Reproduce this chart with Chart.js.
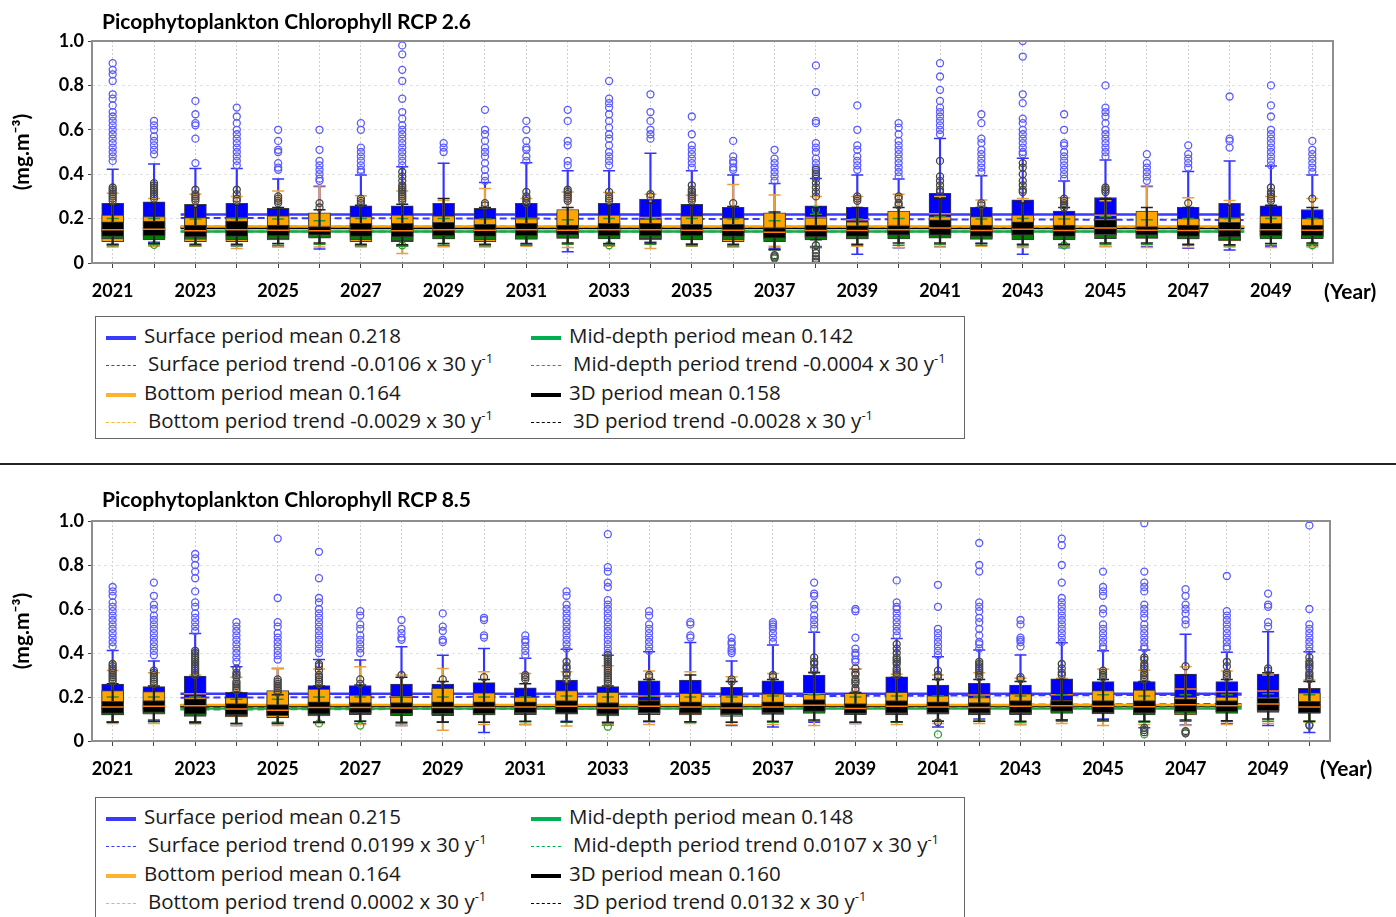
<!DOCTYPE html>
<html>
<head>
<meta charset="utf-8">
<script src="https://cdn.jsdelivr.net/npm/chart.js@4.4.1/dist/chart.umd.min.js"></script>
<style>
body { margin: 0; background: #fff; width: 1396px; height: 917px; overflow: hidden; position: relative; }
.panel { position: absolute; left: 0; }
.title { position: absolute; left: 102px; font-family: Lato, sans-serif; font-weight: bold; font-size: 21px; color: #000; line-height: 25px; }
.yearLabel { position: absolute; font-family: Lato, sans-serif; font-weight: bold; font-size: 21px; color: #000; }
.sep { position: absolute; left: 0; top: 463px; width: 1396px; height: 2px; background: #222; }
.legend { position: absolute; left: 95px; width: 868px; height: 121px; border: 1px solid #666; font-family: 'Open Sans', sans-serif; font-size: 20.5px; color: #1a1a1a; }
.item { position: absolute; height: 28px; line-height: 28px; white-space: nowrap; }
.sym { display: inline-block; width: 30px; vertical-align: middle; margin-right: 8px; }
.solid { height: 4px; }
.dash { height: 0; margin-right: 12px; }
sup { font-size: 13px; line-height: 0; }
</style>
</head>
<body>
<div class="panel" style="top:0"><canvas id="chart26" width="1396" height="310"></canvas></div>
<div class="title" style="top:8px">Picophytoplankton Chlorophyll RCP 2.6</div>
<div class="yearLabel" style="left:1324px; top:278px">(Year)</div>
<div class="legend" id="legend26" style="top:316px"></div>
<div class="sep"></div>
<div class="panel" style="top:480px"><canvas id="chart85" width="1396" height="310"></canvas></div>
<div class="title" style="top:486px">Picophytoplankton Chlorophyll RCP 8.5</div>
<div class="yearLabel" style="left:1320px; top:755px">(Year)</div>
<div class="legend" id="legend85" style="top:797px"></div>
<script>
const years = ['2021', '2022', '2023', '2024', '2025', '2026', '2027', '2028', '2029', '2030',
	'2031', '2032', '2033', '2034', '2035', '2036', '2037', '2038', '2039', '2040',
	'2041', '2042', '2043', '2044', '2045', '2046', '2047', '2048', '2049', '2050'];
const xStart = 2020.5;
const xEnd = 2050.5;
const seriesNames = ['Surface', 'Bottom', 'Mid-depth', '3D'];

// ---- RCP 2.6 ----
const surfQ1_26 = [0.140, 0.145, 0.135, 0.140, 0.135, 0.130, 0.140, 0.135, 0.140, 0.135, 0.140, 0.130, 0.140, 0.140, 0.140, 0.135, 0.125, 0.140, 0.135, 0.135, 0.150, 0.135, 0.140, 0.135, 0.145, 0.135, 0.140, 0.140, 0.140, 0.135];
const surfMed_26 = [0.200, 0.205, 0.195, 0.200, 0.190, 0.180, 0.195, 0.195, 0.200, 0.190, 0.200, 0.185, 0.200, 0.205, 0.195, 0.190, 0.180, 0.205, 0.195, 0.185, 0.222, 0.195, 0.210, 0.190, 0.215, 0.185, 0.195, 0.200, 0.200, 0.190];
const surfQ3_26 = [0.269, 0.276, 0.264, 0.269, 0.246, 0.220, 0.258, 0.257, 0.269, 0.246, 0.269, 0.230, 0.269, 0.288, 0.264, 0.251, 0.220, 0.258, 0.251, 0.225, 0.314, 0.251, 0.284, 0.234, 0.295, 0.222, 0.251, 0.269, 0.258, 0.241];
const surfLo_26 = [0.081, 0.093, 0.078, 0.078, 0.074, 0.063, 0.078, 0.078, 0.074, 0.078, 0.081, 0.051, 0.081, 0.093, 0.084, 0.074, 0.066, 0.074, 0.039, 0.069, 0.074, 0.089, 0.039, 0.069, 0.074, 0.074, 0.066, 0.059, 0.074, 0.078];
const surfHi_26 = [0.422, 0.446, 0.426, 0.426, 0.378, 0.345, 0.396, 0.434, 0.449, 0.363, 0.452, 0.416, 0.416, 0.494, 0.416, 0.396, 0.358, 0.381, 0.396, 0.378, 0.561, 0.393, 0.472, 0.369, 0.464, 0.345, 0.412, 0.459, 0.437, 0.396];
const surfOut_26 = [
	[0.90, 0.87, 0.85, 0.82, 0.76, 0.74, 0.71, 0.68, 0.66, 0.64, 0.62, 0.60, 0.58, 0.56, 0.54, 0.52, 0.50, 0.48, 0.46],
	[0.64, 0.62, 0.60, 0.57, 0.55, 0.53, 0.51, 0.49],
	[0.73, 0.67, 0.63, 0.62, 0.56, 0.45],
	[0.70, 0.66, 0.63, 0.60, 0.58, 0.56, 0.54, 0.52, 0.50, 0.48, 0.46, 0.44],
	[0.60, 0.55, 0.51, 0.50, 0.45, 0.43, 0.42],
	[0.60, 0.51, 0.46, 0.44, 0.42, 0.40, 0.38, 0.37],
	[0.63, 0.60, 0.52, 0.50, 0.48, 0.46, 0.44, 0.42, 0.41],
	[0.98, 0.94, 0.87, 0.82, 0.74, 0.68, 0.65, 0.62, 0.60, 0.58, 0.56, 0.54, 0.52, 0.50, 0.48, 0.46, 0.44],
	[0.54, 0.52, 0.50],
	[0.69, 0.60, 0.58, 0.55, 0.52, 0.50, 0.48, 0.45, 0.42, 0.39, 0.37],
	[0.64, 0.60, 0.55, 0.52, 0.51, 0.48, 0.46],
	[0.69, 0.64, 0.55, 0.53, 0.46, 0.44],
	[0.82, 0.74, 0.72, 0.70, 0.67, 0.64, 0.61, 0.58, 0.56, 0.53, 0.50, 0.48, 0.46, 0.44],
	[0.76, 0.68, 0.64, 0.60, 0.58, 0.56],
	[0.66, 0.58, 0.53, 0.51, 0.49, 0.47, 0.45, 0.43],
	[0.55, 0.48, 0.46, 0.45, 0.43, 0.42],
	[0.51, 0.47, 0.45, 0.43, 0.41, 0.39, 0.37],
	[0.89, 0.77, 0.64, 0.63, 0.54, 0.52, 0.50, 0.47, 0.45, 0.43, 0.41, 0.39],
	[0.71, 0.60, 0.53, 0.51, 0.48, 0.46, 0.44, 0.42],
	[0.63, 0.61, 0.58, 0.55, 0.53, 0.51, 0.49, 0.47, 0.45, 0.43, 0.41, 0.39],
	[0.90, 0.84, 0.78, 0.73, 0.70, 0.68, 0.66, 0.64, 0.62, 0.60, 0.58],
	[0.67, 0.63, 0.56, 0.54, 0.51, 0.49, 0.47, 0.45, 0.43, 0.41],
	[1.00, 0.93, 0.76, 0.72, 0.65, 0.63, 0.60, 0.58, 0.56, 0.54, 0.52, 0.50, 0.49],
	[0.67, 0.60, 0.54, 0.53, 0.50, 0.48, 0.46, 0.44, 0.42, 0.40, 0.38],
	[0.80, 0.70, 0.68, 0.66, 0.63, 0.60, 0.58, 0.56, 0.54, 0.52, 0.50, 0.48],
	[0.49, 0.45, 0.43, 0.41, 0.39, 0.37],
	[0.53, 0.49, 0.47, 0.45, 0.43],
	[0.75, 0.56, 0.55, 0.52],
	[0.80, 0.71, 0.66, 0.60, 0.58, 0.56, 0.54, 0.52, 0.50, 0.48, 0.46, 0.44],
	[0.55, 0.51, 0.49, 0.47, 0.45, 0.43, 0.41]
];
const botQ1_26 = [0.096, 0.111, 0.096, 0.096, 0.104, 0.118, 0.096, 0.096, 0.108, 0.096, 0.111, 0.111, 0.111, 0.104, 0.110, 0.096, 0.108, 0.111, 0.108, 0.126, 0.118, 0.111, 0.126, 0.108, 0.126, 0.111, 0.108, 0.099, 0.118, 0.118];
const botMed_26 = [0.160, 0.158, 0.150, 0.155, 0.155, 0.165, 0.155, 0.150, 0.158, 0.150, 0.155, 0.160, 0.158, 0.152, 0.158, 0.152, 0.160, 0.155, 0.148, 0.170, 0.160, 0.155, 0.165, 0.158, 0.165, 0.165, 0.152, 0.155, 0.160, 0.158];
const botQ3_26 = [0.216, 0.209, 0.205, 0.204, 0.212, 0.226, 0.209, 0.216, 0.212, 0.200, 0.200, 0.241, 0.216, 0.198, 0.212, 0.204, 0.226, 0.204, 0.186, 0.234, 0.209, 0.209, 0.216, 0.216, 0.200, 0.234, 0.200, 0.204, 0.213, 0.200];
const botLo_26 = [0.072, 0.075, 0.075, 0.065, 0.072, 0.072, 0.072, 0.043, 0.075, 0.072, 0.075, 0.070, 0.075, 0.065, 0.075, 0.072, 0.075, 0.070, 0.075, 0.070, 0.072, 0.075, 0.070, 0.072, 0.075, 0.070, 0.070, 0.072, 0.070, 0.072];
const botHi_26 = [0.314, 0.290, 0.310, 0.300, 0.324, 0.348, 0.303, 0.324, 0.281, 0.336, 0.290, 0.320, 0.318, 0.310, 0.305, 0.354, 0.306, 0.300, 0.300, 0.310, 0.300, 0.284, 0.290, 0.294, 0.280, 0.348, 0.294, 0.281, 0.300, 0.290];
const midQ1_26 = [0.108, 0.104, 0.106, 0.104, 0.108, 0.112, 0.104, 0.100, 0.108, 0.104, 0.106, 0.112, 0.108, 0.110, 0.104, 0.104, 0.096, 0.104, 0.108, 0.108, 0.112, 0.106, 0.104, 0.104, 0.110, 0.112, 0.108, 0.104, 0.108, 0.110];
const midMed_26 = [0.130, 0.132, 0.128, 0.130, 0.130, 0.128, 0.130, 0.128, 0.132, 0.128, 0.130, 0.130, 0.130, 0.132, 0.128, 0.128, 0.120, 0.130, 0.128, 0.130, 0.138, 0.128, 0.132, 0.128, 0.135, 0.130, 0.128, 0.130, 0.130, 0.130];
const midQ3_26 = [0.152, 0.155, 0.150, 0.152, 0.150, 0.145, 0.152, 0.150, 0.155, 0.150, 0.152, 0.148, 0.152, 0.155, 0.150, 0.150, 0.142, 0.150, 0.148, 0.150, 0.160, 0.150, 0.155, 0.150, 0.158, 0.148, 0.150, 0.152, 0.152, 0.150];
const midLo_26 = [0.078, 0.082, 0.078, 0.078, 0.080, 0.085, 0.078, 0.075, 0.080, 0.078, 0.080, 0.085, 0.080, 0.085, 0.078, 0.078, 0.060, 0.070, 0.080, 0.080, 0.085, 0.080, 0.078, 0.078, 0.085, 0.085, 0.080, 0.078, 0.080, 0.085];
const midHi_26 = [0.200, 0.200, 0.198, 0.200, 0.198, 0.190, 0.200, 0.200, 0.200, 0.198, 0.200, 0.195, 0.200, 0.200, 0.200, 0.198, 0.190, 0.220, 0.198, 0.200, 0.210, 0.198, 0.200, 0.198, 0.210, 0.195, 0.200, 0.200, 0.200, 0.200];
const midOut_26 = [[], [0.082], [], [], [], [], [], [0.080], [], [], [], [], [0.080], [], [], [], [0.030, 0.020], [0.240, 0.020], [], [], [], [], [], [0.080], [], [], [], [], [], [0.080]];
const d3Q1_26 = [0.120, 0.122, 0.118, 0.120, 0.122, 0.125, 0.120, 0.118, 0.122, 0.120, 0.122, 0.125, 0.122, 0.122, 0.122, 0.120, 0.112, 0.118, 0.120, 0.125, 0.125, 0.120, 0.125, 0.120, 0.128, 0.125, 0.120, 0.118, 0.122, 0.122];
const d3Med_26 = [0.150, 0.152, 0.145, 0.150, 0.148, 0.145, 0.148, 0.145, 0.150, 0.147, 0.150, 0.148, 0.150, 0.150, 0.148, 0.148, 0.138, 0.146, 0.146, 0.150, 0.158, 0.146, 0.152, 0.146, 0.158, 0.148, 0.146, 0.150, 0.150, 0.148];
const d3Q3_26 = [0.186, 0.189, 0.171, 0.189, 0.171, 0.164, 0.179, 0.179, 0.183, 0.174, 0.179, 0.171, 0.179, 0.179, 0.174, 0.174, 0.160, 0.171, 0.168, 0.168, 0.194, 0.171, 0.186, 0.171, 0.194, 0.164, 0.171, 0.183, 0.179, 0.171];
const d3Lo_26 = [0.085, 0.088, 0.085, 0.085, 0.088, 0.090, 0.085, 0.082, 0.088, 0.085, 0.088, 0.090, 0.088, 0.090, 0.085, 0.085, 0.060, 0.105, 0.085, 0.090, 0.090, 0.088, 0.085, 0.085, 0.090, 0.090, 0.085, 0.082, 0.088, 0.090];
const d3Hi_26 = [0.265, 0.270, 0.250, 0.260, 0.250, 0.240, 0.260, 0.265, 0.290, 0.250, 0.260, 0.250, 0.260, 0.270, 0.260, 0.255, 0.230, 0.250, 0.250, 0.250, 0.290, 0.250, 0.270, 0.250, 0.290, 0.250, 0.250, 0.260, 0.260, 0.250];
const d3Out_26 = [
	[0.34, 0.33, 0.32, 0.31, 0.30, 0.29, 0.28], [0.36, 0.35, 0.34, 0.33, 0.32, 0.31, 0.30, 0.29], [0.33, 0.31, 0.30, 0.29, 0.28],
	[0.33, 0.31, 0.29, 0.28], [0.30, 0.29, 0.28, 0.27], [0.27, 0.25], [0.29, 0.28, 0.27],
	[0.41, 0.39, 0.37, 0.35, 0.34, 0.33, 0.32, 0.31, 0.30, 0.29, 0.28], [], [0.27, 0.26], [0.32, 0.30, 0.29, 0.28, 0.27],
	[0.33, 0.32, 0.31, 0.30, 0.29, 0.28], [0.32, 0.30, 0.29, 0.28], [0.31, 0.30], [0.35, 0.33, 0.32, 0.31, 0.30, 0.29, 0.28],
	[0.27], [0.035, 0.025], [0.42, 0.40, 0.38, 0.36, 0.34, 0.32, 0.30, 0.08, 0.06, 0.045, 0.03, 0.015, 0.006],
	[0.30, 0.29, 0.28], [0.30, 0.29, 0.27, 0.26], [0.46, 0.39, 0.37, 0.35, 0.33, 0.32], [0.27, 0.26],
	[0.45, 0.43, 0.40, 0.37, 0.35, 0.33, 0.32], [0.29, 0.28, 0.27, 0.26, 0.25], [0.34, 0.33, 0.32], [], [0.27], [],
	[0.34, 0.32, 0.31, 0.30, 0.29, 0.28], [0.29]
];
const means26 = [0.218, 0.164, 0.142, 0.158];
const trends26 = [-0.0106, -0.0029, -0.0004, -0.0028];
const trendStart26 = [0.203, 0.166, 0.142, 0.160];
const trendEnd26 = [0.194, 0.163, 0.142, 0.157];

// ---- RCP 8.5 ----
const surfQ1_85 = [0.140, 0.140, 0.150, 0.130, 0.130, 0.140, 0.140, 0.140, 0.140, 0.140, 0.140, 0.145, 0.140, 0.150, 0.150, 0.140, 0.150, 0.155, 0.130, 0.150, 0.145, 0.145, 0.145, 0.150, 0.150, 0.145, 0.160, 0.150, 0.160, 0.140];
const surfMed_85 = [0.200, 0.195, 0.215, 0.180, 0.180, 0.195, 0.195, 0.200, 0.200, 0.200, 0.190, 0.205, 0.195, 0.205, 0.205, 0.190, 0.205, 0.215, 0.180, 0.215, 0.200, 0.209, 0.200, 0.210, 0.205, 0.205, 0.236, 0.224, 0.227, 0.195];
const surfQ3_85 = [0.259, 0.247, 0.295, 0.221, 0.215, 0.252, 0.252, 0.259, 0.259, 0.265, 0.242, 0.277, 0.247, 0.273, 0.277, 0.244, 0.274, 0.300, 0.210, 0.292, 0.254, 0.262, 0.254, 0.283, 0.270, 0.270, 0.304, 0.270, 0.304, 0.239];
const surfLo_85 = [0.088, 0.095, 0.088, 0.070, 0.080, 0.085, 0.080, 0.070, 0.088, 0.039, 0.075, 0.090, 0.073, 0.088, 0.088, 0.070, 0.064, 0.085, 0.080, 0.088, 0.064, 0.100, 0.075, 0.095, 0.100, 0.060, 0.073, 0.080, 0.070, 0.039];
const surfHi_85 = [0.411, 0.364, 0.489, 0.338, 0.330, 0.370, 0.368, 0.428, 0.390, 0.421, 0.376, 0.417, 0.390, 0.406, 0.448, 0.364, 0.436, 0.494, 0.327, 0.466, 0.383, 0.414, 0.391, 0.447, 0.410, 0.414, 0.485, 0.403, 0.497, 0.406];
const surfOut_85 = [
	[0.70, 0.68, 0.66, 0.63, 0.61, 0.59, 0.57, 0.55, 0.53, 0.51, 0.49, 0.47, 0.45, 0.43],
	[0.72, 0.66, 0.62, 0.60, 0.57, 0.55, 0.53, 0.51, 0.49, 0.47, 0.45, 0.43, 0.41, 0.39],
	[0.85, 0.83, 0.80, 0.77, 0.74, 0.68, 0.63, 0.61, 0.58, 0.56, 0.54, 0.52, 0.50],
	[0.54, 0.52, 0.50, 0.48, 0.46, 0.44, 0.42, 0.40, 0.38, 0.36],
	[0.92, 0.65, 0.54, 0.52, 0.49, 0.47, 0.45, 0.43, 0.41, 0.39, 0.37],
	[0.86, 0.74, 0.65, 0.63, 0.60, 0.58, 0.56, 0.54, 0.52, 0.50, 0.48, 0.46, 0.44, 0.42, 0.40],
	[0.59, 0.57, 0.53, 0.51, 0.48, 0.46, 0.44, 0.42, 0.40],
	[0.55, 0.51, 0.49, 0.47, 0.46],
	[0.58, 0.52, 0.50, 0.46, 0.45],
	[0.56, 0.55, 0.48, 0.47],
	[0.48, 0.46, 0.45, 0.43, 0.41, 0.39],
	[0.68, 0.66, 0.62, 0.60, 0.58, 0.56, 0.54, 0.52, 0.50, 0.48, 0.46, 0.44, 0.42],
	[0.94, 0.79, 0.77, 0.72, 0.70, 0.64, 0.62, 0.60, 0.58, 0.56, 0.54, 0.52, 0.50, 0.48, 0.46, 0.44, 0.42, 0.40],
	[0.59, 0.57, 0.53, 0.51, 0.49, 0.47, 0.45, 0.43, 0.41],
	[0.54, 0.53, 0.48, 0.47],
	[0.47, 0.45, 0.44, 0.42, 0.41, 0.40],
	[0.54, 0.53, 0.52, 0.51, 0.49, 0.47, 0.45],
	[0.72, 0.67, 0.66, 0.62, 0.60, 0.57, 0.55, 0.53, 0.51],
	[0.60, 0.59, 0.47, 0.42, 0.40, 0.39, 0.37, 0.36],
	[0.73, 0.63, 0.61, 0.60, 0.58, 0.56, 0.54, 0.52, 0.50, 0.48],
	[0.71, 0.61, 0.51, 0.49, 0.47, 0.45, 0.43, 0.41, 0.39],
	[0.90, 0.80, 0.77, 0.63, 0.61, 0.59, 0.56, 0.54, 0.51, 0.48, 0.45, 0.44, 0.42],
	[0.55, 0.53, 0.47, 0.46, 0.45, 0.43],
	[0.92, 0.89, 0.80, 0.72, 0.65, 0.63, 0.61, 0.59, 0.57, 0.55, 0.53, 0.51, 0.49, 0.47, 0.45],
	[0.77, 0.70, 0.68, 0.66, 0.60, 0.58, 0.53, 0.51, 0.49, 0.47, 0.45, 0.43, 0.42],
	[0.99, 0.77, 0.72, 0.70, 0.68, 0.62, 0.60, 0.58, 0.56, 0.53, 0.51, 0.49, 0.47, 0.45, 0.43, 0.42],
	[0.69, 0.66, 0.62, 0.60, 0.58, 0.55, 0.53],
	[0.75, 0.59, 0.57, 0.55, 0.53, 0.51, 0.49, 0.47, 0.45, 0.43, 0.42],
	[0.67, 0.62, 0.61, 0.54, 0.52],
	[1.01, 0.98, 0.60, 0.53, 0.51, 0.49, 0.47, 0.45, 0.43, 0.41]
];
const botQ1_85 = [0.118, 0.122, 0.118, 0.110, 0.106, 0.114, 0.120, 0.118, 0.115, 0.118, 0.120, 0.123, 0.114, 0.120, 0.118, 0.112, 0.121, 0.136, 0.123, 0.118, 0.123, 0.118, 0.123, 0.130, 0.123, 0.133, 0.118, 0.130, 0.141, 0.130];
const botMed_85 = [0.165, 0.168, 0.160, 0.150, 0.150, 0.165, 0.162, 0.158, 0.165, 0.165, 0.160, 0.168, 0.162, 0.158, 0.165, 0.160, 0.165, 0.170, 0.160, 0.168, 0.162, 0.158, 0.165, 0.162, 0.172, 0.175, 0.160, 0.165, 0.170, 0.170];
const botQ3_85 = [0.229, 0.225, 0.200, 0.197, 0.229, 0.236, 0.209, 0.200, 0.239, 0.219, 0.200, 0.229, 0.221, 0.186, 0.217, 0.209, 0.214, 0.212, 0.217, 0.221, 0.205, 0.197, 0.214, 0.186, 0.229, 0.232, 0.200, 0.200, 0.200, 0.219];
const botLo_85 = [0.080, 0.080, 0.080, 0.070, 0.070, 0.080, 0.075, 0.070, 0.049, 0.075, 0.075, 0.068, 0.075, 0.075, 0.080, 0.075, 0.075, 0.070, 0.080, 0.075, 0.080, 0.080, 0.075, 0.080, 0.070, 0.075, 0.070, 0.075, 0.080, 0.085];
const botHi_85 = [0.320, 0.310, 0.300, 0.290, 0.330, 0.327, 0.338, 0.300, 0.330, 0.315, 0.307, 0.315, 0.342, 0.318, 0.315, 0.292, 0.307, 0.315, 0.327, 0.303, 0.300, 0.310, 0.285, 0.285, 0.327, 0.322, 0.338, 0.318, 0.300, 0.277];
const midQ1_85 = [0.118, 0.125, 0.112, 0.115, 0.115, 0.118, 0.122, 0.115, 0.118, 0.118, 0.120, 0.122, 0.118, 0.125, 0.122, 0.118, 0.122, 0.125, 0.120, 0.120, 0.122, 0.120, 0.120, 0.125, 0.125, 0.118, 0.125, 0.125, 0.130, 0.125];
const midMed_85 = [0.140, 0.142, 0.140, 0.135, 0.135, 0.140, 0.140, 0.140, 0.138, 0.140, 0.142, 0.145, 0.140, 0.145, 0.142, 0.140, 0.145, 0.150, 0.140, 0.145, 0.145, 0.140, 0.145, 0.148, 0.148, 0.145, 0.148, 0.148, 0.152, 0.148];
const midQ3_85 = [0.160, 0.162, 0.160, 0.155, 0.155, 0.160, 0.160, 0.160, 0.160, 0.160, 0.162, 0.165, 0.160, 0.165, 0.162, 0.160, 0.165, 0.170, 0.160, 0.165, 0.165, 0.160, 0.165, 0.168, 0.168, 0.165, 0.168, 0.168, 0.172, 0.168];
const midLo_85 = [0.085, 0.088, 0.080, 0.080, 0.085, 0.085, 0.090, 0.080, 0.085, 0.085, 0.088, 0.085, 0.080, 0.090, 0.085, 0.085, 0.085, 0.090, 0.085, 0.085, 0.090, 0.090, 0.085, 0.090, 0.090, 0.085, 0.090, 0.090, 0.090, 0.090];
const midHi_85 = [0.200, 0.200, 0.200, 0.190, 0.190, 0.200, 0.200, 0.200, 0.200, 0.200, 0.200, 0.205, 0.200, 0.205, 0.200, 0.200, 0.205, 0.210, 0.200, 0.205, 0.205, 0.200, 0.205, 0.210, 0.210, 0.205, 0.210, 0.210, 0.215, 0.210];
const midOut_85 = [[], [], [], [], [], [0.080], [0.070], [], [], [], [], [], [0.065], [], [], [], [], [], [], [], [0.030], [], [], [], [0.300], [0.030], [0.040], [], [], [0.075]];
const d3Q1_85 = [0.125, 0.130, 0.122, 0.118, 0.115, 0.122, 0.128, 0.124, 0.124, 0.124, 0.128, 0.126, 0.122, 0.128, 0.126, 0.122, 0.128, 0.134, 0.125, 0.126, 0.128, 0.126, 0.128, 0.134, 0.128, 0.126, 0.132, 0.132, 0.138, 0.128];
const d3Med_85 = [0.155, 0.158, 0.160, 0.145, 0.140, 0.152, 0.152, 0.150, 0.152, 0.152, 0.155, 0.158, 0.150, 0.158, 0.155, 0.150, 0.155, 0.162, 0.148, 0.158, 0.155, 0.152, 0.158, 0.160, 0.158, 0.156, 0.165, 0.160, 0.168, 0.155];
const d3Q3_85 = [0.180, 0.184, 0.192, 0.170, 0.165, 0.178, 0.175, 0.175, 0.178, 0.178, 0.178, 0.184, 0.175, 0.184, 0.178, 0.175, 0.178, 0.188, 0.170, 0.184, 0.178, 0.175, 0.184, 0.184, 0.184, 0.184, 0.192, 0.184, 0.194, 0.180];
const d3Lo_85 = [0.085, 0.090, 0.085, 0.080, 0.080, 0.085, 0.090, 0.085, 0.085, 0.085, 0.090, 0.088, 0.085, 0.090, 0.088, 0.085, 0.090, 0.095, 0.085, 0.088, 0.090, 0.090, 0.090, 0.095, 0.095, 0.090, 0.095, 0.092, 0.100, 0.090];
const d3Hi_85 = [0.260, 0.250, 0.290, 0.220, 0.210, 0.250, 0.255, 0.290, 0.270, 0.280, 0.260, 0.260, 0.250, 0.280, 0.300, 0.270, 0.280, 0.310, 0.220, 0.290, 0.280, 0.280, 0.270, 0.280, 0.280, 0.270, 0.300, 0.280, 0.310, 0.270];
const d3Out_85 = [
	[0.35, 0.34, 0.33, 0.32, 0.31, 0.30, 0.29, 0.28, 0.27], [0.32, 0.31, 0.30, 0.29, 0.28, 0.27, 0.26],
	[0.41, 0.40, 0.39, 0.38, 0.37, 0.36, 0.35, 0.34, 0.33, 0.32, 0.31, 0.30], [0.33, 0.31, 0.30, 0.29, 0.27, 0.26, 0.25, 0.24, 0.23],
	[0.28, 0.27, 0.26, 0.25, 0.24, 0.23, 0.22], [0.35, 0.34, 0.32, 0.30, 0.29, 0.28, 0.27, 0.26], [0.28, 0.26], [0.30], [0.28], [0.29],
	[0.30, 0.29, 0.28], [0.36, 0.34, 0.33, 0.31, 0.30, 0.28], [0.39, 0.38, 0.37, 0.36, 0.35, 0.34, 0.33, 0.32, 0.31, 0.30, 0.29, 0.28, 0.27, 0.26],
	[0.30, 0.29], [], [0.28, 0.27], [0.30, 0.29], [0.38, 0.36, 0.35, 0.33, 0.32], [0.33, 0.31, 0.30, 0.28, 0.27, 0.26, 0.24, 0.23],
	[0.44, 0.42, 0.40, 0.38, 0.37, 0.36, 0.35, 0.33, 0.32, 0.31, 0.30], [0.32, 0.30, 0.29, 0.085], [0.36, 0.35, 0.34, 0.33, 0.32, 0.31, 0.30, 0.29],
	[0.29, 0.28], [0.35, 0.33, 0.31, 0.30], [0.32, 0.31, 0.30, 0.29], [0.38, 0.37, 0.35, 0.34, 0.33, 0.31, 0.30, 0.29, 0.28, 0.06, 0.05, 0.04],
	[0.34, 0.045, 0.035], [0.36, 0.34, 0.31, 0.30, 0.29], [0.33, 0.32], [0.38, 0.36, 0.35, 0.34, 0.33, 0.31, 0.30, 0.29, 0.28, 0.07]
];
const means85 = [0.215, 0.164, 0.148, 0.160];
const trends85 = [0.0199, 0.0002, 0.0107, 0.0132];
const trendStart85 = [0.197, 0.164, 0.143, 0.154];
const trendEnd85 = [0.210, 0.164, 0.153, 0.167];

const boxColors = ['#0000ff', '#ffa500', '#008000', '#000000'];
const whiskerColors = ['#3434ff', '#e8a040', '#2f8f2f', '#222222'];
const flierColors = ['#5a5aff', '#ffa500', '#2f9f2f', '#454545'];
const lineColors = ['#3a3aff', '#ffa500', '#1fa84a', '#000000'];
const legendColors = ['#3a3aff', '#ffb22e', '#00b050', '#000000'];

const framePlugin = {
	id: 'frame',
	afterDraw(chart) {
		const a = chart.chartArea;
		const ctx = chart.ctx;
		ctx.save();
		ctx.strokeStyle = '#8e8e8e';
		ctx.lineWidth = 2;
		ctx.strokeRect(a.left, a.top, a.right - a.left, a.bottom - a.top);
		ctx.restore();
	},
};

function seriesDatasets(p, s) {
	const base = 500 - s * 10;
	const fliers = [];
	p.out.forEach((list, i) => list.forEach((v) => fliers.push({ x: years[i], y: v })));
	return [
		{ type: 'bar', data: p.lo.map((v, i) => [v, p.hi[i]]), backgroundColor: whiskerColors[s], barThickness: 1.5, grouped: false, order: base },
		{ type: 'line', data: p.lo, showLine: false, pointStyle: 'line', pointRadius: 6, pointBorderColor: whiskerColors[s], pointBorderWidth: 1.5, order: base - 1 },
		{ type: 'line', data: p.hi, showLine: false, pointStyle: 'line', pointRadius: 6, pointBorderColor: whiskerColors[s], pointBorderWidth: 1.5, order: base - 1 },
		{ type: 'bar', data: p.q1.map((v, i) => [v, p.q3[i]]), backgroundColor: boxColors[s], borderColor: '#3c3c3c', borderWidth: 1, borderSkipped: false, barThickness: 22, grouped: false, order: base - 2 },
		{ type: 'line', data: p.med, showLine: false, pointStyle: 'line', pointRadius: 11, pointBorderColor: '#ff7f0e', pointBorderWidth: 1.5, order: base - 3 },
		{ type: 'line', data: fliers, showLine: false, pointStyle: 'circle', pointRadius: 3.5, pointBackgroundColor: 'rgba(0,0,0,0)', pointBorderColor: flierColors[s], pointBorderWidth: 1.3, order: base - 4 },
	];
}

function makeChart(id, panel, means, tStart, tEnd, rightPad, xHeight) {
	let datasets = [];
	means.forEach((m, s) => {
		datasets.push({ type: 'line', xAxisID: 'xl', data: [{ x: xStart, y: m }, { x: xEnd, y: m }], borderColor: lineColors[s], borderWidth: 2.5, pointRadius: 0, order: 1000 });
		datasets.push({ type: 'line', xAxisID: 'xl', data: [{ x: xStart, y: tStart[s] }, { x: xEnd, y: tEnd[s] }], borderColor: lineColors[s], borderWidth: 2, borderDash: [7, 4], pointRadius: 0, order: 1000 });
	});
	panel.forEach((p, s) => {
		datasets = datasets.concat(seriesDatasets(p, s));
	});
	const boldFont = { family: 'Lato', weight: 'bold', size: 18 };
	new Chart(document.getElementById(id), {
		type: 'bar',
		data: { labels: years, datasets: datasets },
		plugins: [framePlugin],
		options: {
			responsive: false,
			animation: false,
			layout: { padding: { left: 0, right: rightPad, top: 41, bottom: 0 } },
			scales: {
				x: {
					type: 'category',
					offset: true,
					grid: { offset: false, color: '#d0d0d0', tickLength: 5, tickColor: '#444', tickBorderDash: [] },
					border: { display: false, dash: [2, 2] },
					ticks: {
						autoSkip: false,
						maxRotation: 0,
						padding: 12,
						color: '#000',
						font: boldFont,
						callback: function (v, i) {
							return i % 2 === 0 ? years[i] : '';
						},
					},
					afterFit: function (scale) {
						scale.height = xHeight;
					},
				},
				xl: { type: 'linear', display: false, min: xStart, max: xEnd },
				y: {
					min: 0,
					max: 1,
					ticks: {
						stepSize: 0.2,
						padding: 4,
						color: '#000',
						font: boldFont,
						callback: (v) => (v === 0 ? '0' : v.toFixed(1)),
					},
					grid: { color: '#e2e2e2', tickLength: 4, tickColor: '#444', tickBorderDash: [] },
					border: { display: false, dash: [3, 3] },
					title: { display: true, text: '(mg.m⁻³)', color: '#000', font: { family: 'Lato', weight: 'bold', size: 21 }, padding: { top: 10, bottom: 0 } },
					afterFit: function (scale) {
						scale.width = 92;
					},
				},
			},
			plugins: {
				legend: { display: false },
				tooltip: { enabled: false },
			},
		},
	});
}

function makeLegend(id, means, trends) {
	const box = document.getElementById(id);
	const rowTops = [4, 32, 61, 89];
	seriesNames.forEach((name, s) => {
		const left = s < 2 ? 10 : 435;
		const row = (s % 2) * 2;
		const meanItem = document.createElement('div');
		meanItem.className = 'item';
		meanItem.style.left = left + 'px';
		meanItem.style.top = rowTops[row] + 'px';
		meanItem.innerHTML = '<span class="sym solid" style="background:' + legendColors[s] + '"></span>' +
			name + ' period mean ' + means[s].toFixed(3);
		box.appendChild(meanItem);
		const trendItem = document.createElement('div');
		trendItem.className = 'item';
		trendItem.style.left = left + 'px';
		trendItem.style.top = rowTops[row + 1] + 'px';
		trendItem.innerHTML = '<span class="sym dash" style="border-top:1.5px dashed ' + legendColors[s] + '"></span>' +
			name + ' period trend ' + trends[s].toFixed(4) + ' x 30 y<sup>-1</sup>';
		box.appendChild(trendItem);
	});
}

const panel26 = [
	{ q1: surfQ1_26, med: surfMed_26, q3: surfQ3_26, lo: surfLo_26, hi: surfHi_26, out: surfOut_26 },
	{ q1: botQ1_26, med: botMed_26, q3: botQ3_26, lo: botLo_26, hi: botHi_26, out: [] },
	{ q1: midQ1_26, med: midMed_26, q3: midQ3_26, lo: midLo_26, hi: midHi_26, out: midOut_26 },
	{ q1: d3Q1_26, med: d3Med_26, q3: d3Q3_26, lo: d3Lo_26, hi: d3Hi_26, out: d3Out_26 },
];
const panel85 = [
	{ q1: surfQ1_85, med: surfMed_85, q3: surfQ3_85, lo: surfLo_85, hi: surfHi_85, out: surfOut_85 },
	{ q1: botQ1_85, med: botMed_85, q3: botQ3_85, lo: botLo_85, hi: botHi_85, out: [] },
	{ q1: midQ1_85, med: midMed_85, q3: midQ3_85, lo: midLo_85, hi: midHi_85, out: midOut_85 },
	{ q1: d3Q1_85, med: d3Med_85, q3: d3Q3_85, lo: d3Lo_85, hi: d3Hi_85, out: d3Out_85 },
];

makeChart('chart26', panel26, means26, trendStart26, trendEnd26, 63, 47);
makeChart('chart85', panel85, means85, trendStart85, trendEnd85, 66, 49);
makeLegend('legend26', means26, trends26);
makeLegend('legend85', means85, trends85);
</script>
</body>
</html>
